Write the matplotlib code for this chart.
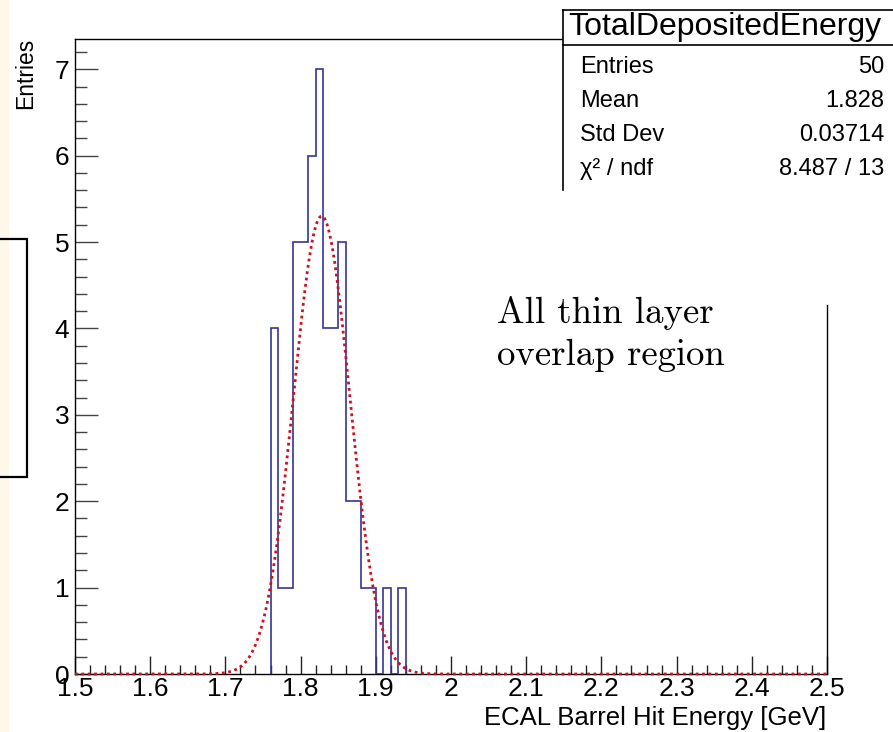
import numpy as np
import matplotlib
matplotlib.use("Agg")
import matplotlib.pyplot as plt
from matplotlib.patches import Rectangle
from matplotlib.lines import Line2D
from matplotlib.ticker import MultipleLocator

# ---------------- data ----------------
hist_xmin = 1.5
hist_xmax = 2.5
bin_width = 0.01
first_bin_low = 1.76
counts = [4, 1, 1, 5, 5, 6, 7, 4, 4, 5, 2, 2, 1, 1, 0, 1, 0, 1]

fit_constant = 5.30
fit_mean = 1.828
fit_sigma = 0.0375

x_ticks = [1.5, 1.6, 1.7, 1.8, 1.9, 2.0, 2.1, 2.2, 2.3, 2.4, 2.5]
x_tick_labels = ["1.5", "1.6", "1.7", "1.8", "1.9", "2", "2.1", "2.2", "2.3", "2.4", "2.5"]
y_ticks = [0, 1, 2, 3, 4, 5, 6, 7]
y_tick_labels = ["0", "1", "2", "3", "4", "5", "6", "7"]

stats_title = "TotalDepositedEnergy"
stats_names = ["Entries", "Mean", "Std Dev", "\u03c7\u00b2 / ndf"]
stats_values = ["50", "1.828", "0.03714", "8.487 / 13"]

x_label = "ECAL Barrel Hit Energy [GeV]"
y_label = "Entries"
note_text = "All thin layer\noverlap region"

# ---------------- figure ----------------
W, H = 893, 732
plt.rcParams['font.family'] = ['Liberation Sans', 'DejaVu Sans']
fig = plt.figure(figsize=(W / 100, H / 100), dpi=100)
fig.patch.set_facecolor('white')

def fx(px):
    return px / W

def fy(py):
    return 1 - py / H

ax_l, ax_r, ax_t, ax_b = 75, 827, 39, 674
ax = fig.add_axes([fx(ax_l), fy(ax_b), (ax_r - ax_l) / W, (ax_b - ax_t) / H])
ax.set_xlim(hist_xmin, hist_xmax)
ax.set_ylim(0, 7.35)

# histogram
edges = first_bin_low + bin_width * np.arange(len(counts) + 1)
ax.stairs(counts, edges, baseline=0, fill=False, color='#353593', linewidth=1.2, zorder=3)

# gaussian fit
xf = np.linspace(hist_xmin, hist_xmax, 1500)
yf = fit_constant * np.exp(-0.5 * ((xf - fit_mean) / fit_sigma) ** 2)
ax.plot(xf, yf, color='#d0101c', linewidth=2.0, linestyle=(0, (1.0, 1.3)), zorder=4, clip_on=False)

# ticks
ax.set_xticks(x_ticks)
ax.set_xticklabels(x_tick_labels)
ax.set_yticks(y_ticks)
ax.set_yticklabels(y_tick_labels)
ax.xaxis.set_minor_locator(MultipleLocator(0.02))
ax.yaxis.set_minor_locator(MultipleLocator(0.2))
ax.tick_params(axis='x', which='major', direction='in', length=13, width=1.0, color='#222222',
               labelsize=19, pad=2)
ax.tick_params(axis='x', which='minor', direction='in', length=6.5, width=1.0, color='#222222')
ax.tick_params(axis='y', which='major', direction='in', length=16.5, width=1.0, color='#444444',
               labelsize=19, pad=4)
ax.tick_params(axis='y', which='minor', direction='in', length=8.5, width=1.0, color='#444444')

for s in ['left', 'bottom', 'top']:
    ax.spines[s].set_linewidth(1.0)
    ax.spines[s].set_color('black')
ax.spines['right'].set_visible(False)
# partial right border (upper part hidden behind text area)
ax.add_line(Line2D([1, 1], [0, (ax_b - 305) / (ax_b - ax_t)], transform=ax.transAxes,
                   color='black', linewidth=1.0, clip_on=False))

# axis titles
fig.text(fx(26), fy(38), y_label, rotation=90, ha='center', va='top', fontsize=16.5)
fig.text(fx(826), fy(718), x_label, ha='right', va='center', fontsize=18.5)

# stats box
sb_l, sb_t, sb_b, sb_title_b = 563, 10, 190, 45
fig.add_artist(Rectangle((fx(sb_l), fy(sb_b)), fx(W + 20 - sb_l), (sb_b - sb_t) / H,
                         transform=fig.transFigure, facecolor='white', edgecolor='none',
                         zorder=5, clip_on=False))
fig.add_artist(Line2D([fx(sb_l), fx(sb_l)], [fy(sb_t), fy(sb_b)], transform=fig.transFigure,
                      color='black', linewidth=1.2, zorder=6))
fig.add_artist(Line2D([fx(sb_l), 1.0], [fy(sb_t), fy(sb_t)], transform=fig.transFigure,
                      color='black', linewidth=1.2, zorder=6))
fig.add_artist(Line2D([fx(sb_l), 1.0], [fy(sb_title_b), fy(sb_title_b)], transform=fig.transFigure,
                      color='black', linewidth=1.2, zorder=6))
fig.text(fx(725), fy(27), stats_title, ha='center', va='center', fontsize=23, zorder=7)
row_y = [67, 101, 135, 169]
for name, val, yy in zip(stats_names, stats_values, row_y):
    fig.text(fx(580), fy(yy), name, ha='left', va='center', fontsize=17, zorder=7)
    fig.text(fx(884), fy(yy), val, ha='right', va='center', fontsize=17, zorder=7)

# annotation text
fig.text(fx(497), fy(365), note_text, ha='left', va='baseline', fontsize=26.5,
         family='cmr10', linespacing=1.35, zorder=7)

# partial box at left edge
fig.add_artist(Rectangle((fx(-20), fy(477)), fx(47), (477 - 239) / H, transform=fig.transFigure,
                         facecolor='none', edgecolor='black', linewidth=1.6, zorder=6, clip_on=False))
# cream strip at left edge
fig.add_artist(Rectangle((0, 0), fx(9), 1, transform=fig.transFigure,
                         facecolor='#fdf8ea', edgecolor='none', zorder=0))

fig.savefig("out.png", dpi=100)
